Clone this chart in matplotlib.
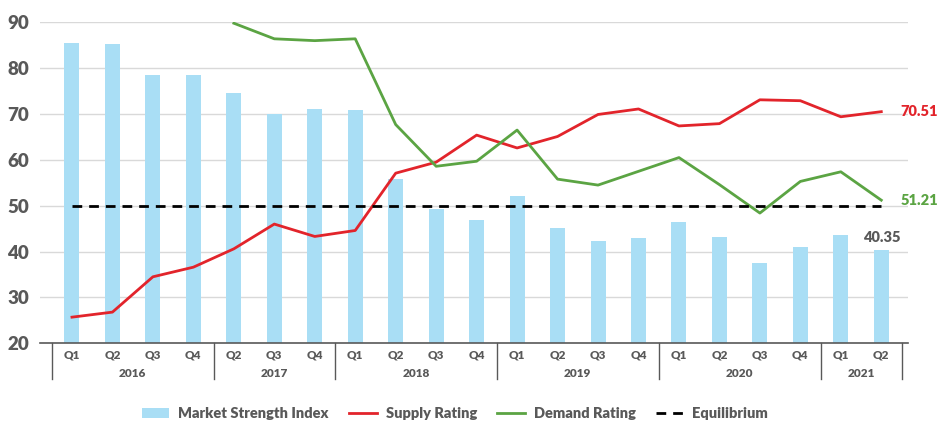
import numpy as np
import matplotlib.pyplot as plt

plt.rcParams['font.family'] = ['Lato', 'DejaVu Sans']

quarters = ['Q1', 'Q2', 'Q3', 'Q4', 'Q2', 'Q3', 'Q4', 'Q1', 'Q2', 'Q3', 'Q4',
            'Q1', 'Q2', 'Q3', 'Q4', 'Q1', 'Q2', 'Q3', 'Q4', 'Q1', 'Q2']
years = ['2016', '2017', '2018', '2019', '2020', '2021']
year_sizes = [4, 3, 4, 4, 4, 2]

market = [85.5, 85.2, 78.4, 78.6, 74.5, 69.9, 71.2, 70.8, 55.9, 49.3, 46.9,
          52.1, 45.2, 42.4, 43.0, 46.5, 43.2, 37.6, 41.0, 43.6, 40.35]
supply = [25.7, 26.8, 34.5, 36.6, 40.6, 46.0, 43.3, 44.6, 57.1, 59.5, 65.4,
          62.6, 65.1, 69.9, 71.1, 67.4, 67.9, 73.1, 72.9, 69.4, 70.51]
demand = [np.nan, np.nan, np.nan, np.nan, 89.8, 86.4, 86.0, 86.4, 67.7, 58.6, 59.7,
          66.5, 55.8, 54.5, 57.5, 60.5, 54.6, 48.4, 55.3, 57.4, 51.21]
equilibrium = [50] * len(quarters)

x = np.arange(len(quarters))
gray = '#595959'

fig = plt.figure(figsize=(9.48, 4.26), dpi=100)
ax = fig.add_axes([40/948, 1 - 343.3/426, 868/948, 321/426])

b = ax.bar(x, market, width=0.37, color='#A9DEF5', label='Market Strength Index', zorder=2)
l1, = ax.plot(x, supply, color='#E2242B', lw=2, label='Supply Rating', zorder=3)
l2, = ax.plot(x, demand, color='#5BA443', lw=2, label='Demand Rating', zorder=3)
l3, = ax.plot(x, equilibrium, color='black', lw=2, dashes=(3.5, 2.5), label='Equilibrium', zorder=4)

ax.set_ylim(20, 90)
ax.set_xlim(-0.79, 20.66)
ax.set_yticks(range(20, 91, 10))
ax.set_yticklabels([str(v) for v in range(20, 91, 10)], fontsize=13.5,
                   fontweight='heavy', color=gray)
ax.tick_params(axis='y', length=0, pad=8)
ax.grid(axis='y', color='#D9D9D9', lw=1, zorder=0)
ax.set_axisbelow(True)
for s in ['top', 'right', 'left']:
    ax.spines[s].set_visible(False)
ax.spines['bottom'].set_color(gray)
ax.spines['bottom'].set_linewidth(1.2)
ax.set_xticks([])

# two-level category axis
tr = ax.get_xaxis_transform()
for i, q in enumerate(quarters):
    ax.text(i, -0.035, q, transform=tr, ha='center', va='center',
            fontsize=8.5, fontweight='heavy', color=gray)
edges = np.concatenate([[0], np.cumsum(year_sizes)]) - 0.5
for e in edges:
    ax.plot([e, e], [0, -0.112], transform=tr, color=gray, lw=1, clip_on=False)
for i, yr in enumerate(years):
    mid = (edges[i] + edges[i + 1]) / 2
    ax.text(mid, -0.095, yr, transform=tr, ha='center', va='center',
            fontsize=8.5, fontweight='heavy', color=gray)

# end labels
ax.annotate(f'{supply[-1]:.2f}', (x[-1], supply[-1]), xytext=(14, 0), textcoords='offset points',
            ha='left', va='center', fontsize=10.5, fontweight='heavy', color='#E2242B', annotation_clip=False)
ax.annotate(f'{demand[-1]:.2f}', (x[-1], demand[-1]), xytext=(14, 0), textcoords='offset points',
            ha='left', va='center', fontsize=10.5, fontweight='heavy', color='#5BA443', annotation_clip=False)
ax.annotate(f'{market[-1]:.2f}', (x[-1], market[-1]), xytext=(0, 4), textcoords='offset points',
            ha='center', va='bottom', fontsize=10.5, fontweight='heavy', color=gray, annotation_clip=False)

leg = fig.legend([b, l1, l2, l3], ['Market Strength Index', 'Supply Rating', 'Demand Rating', 'Equilibrium'],
                 loc='center', bbox_to_anchor=(0.48, 0.03), ncol=4, frameon=False,
                 fontsize=10.5, handlelength=1.9, columnspacing=1.4, handletextpad=0.6)
for t in leg.get_texts():
    t.set_fontweight('heavy')
    t.set_color(gray)

fig.savefig('out.png', dpi=100)
